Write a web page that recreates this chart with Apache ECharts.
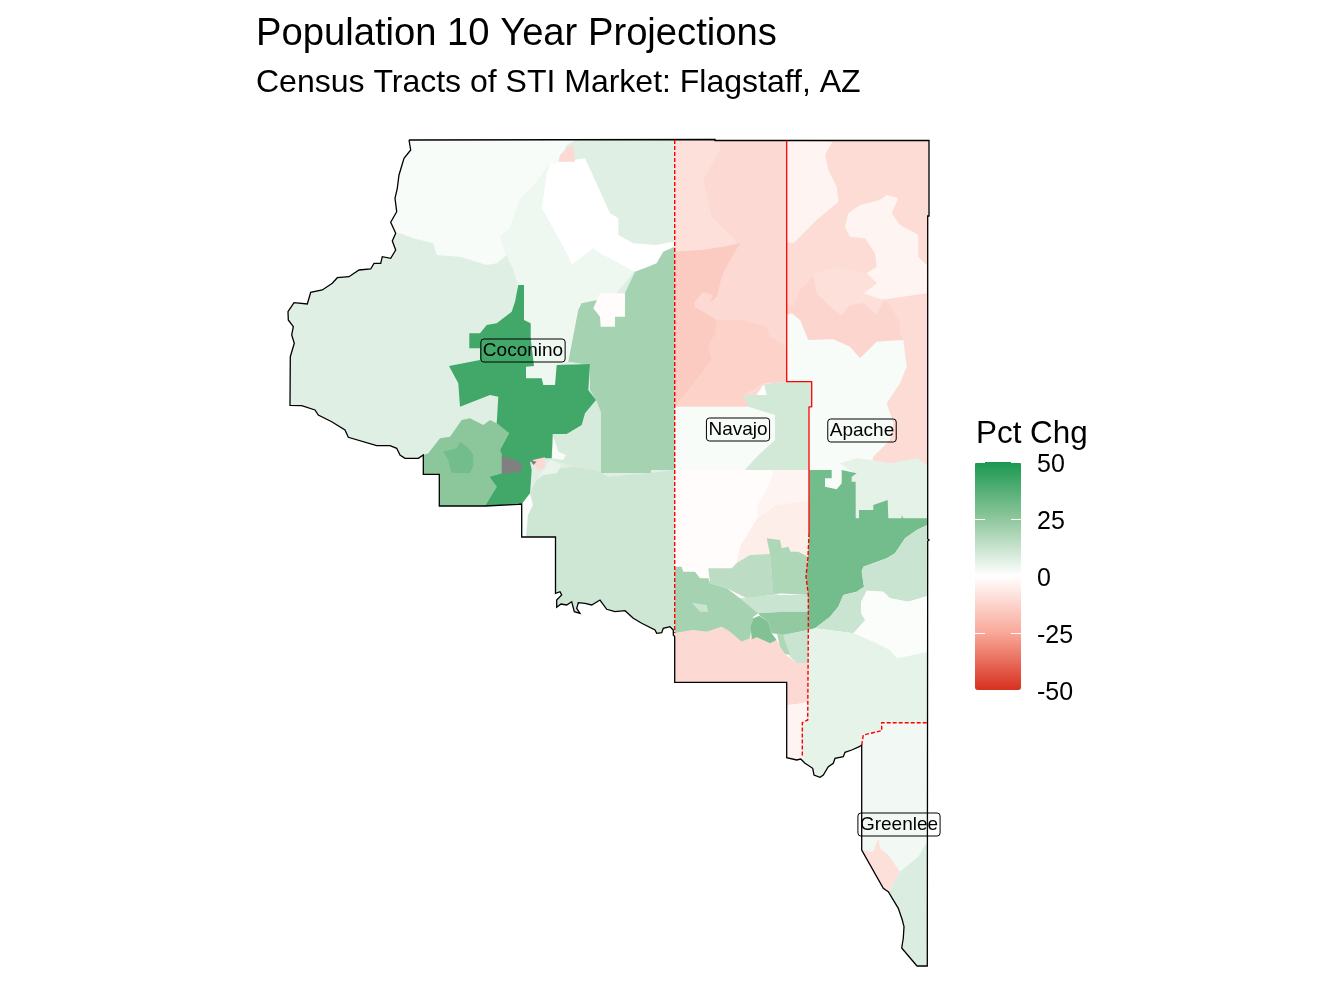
<!DOCTYPE html>
<html>
<head>
<meta charset="utf-8">
<style>html,body{margin:0;padding:0;background:#fff}#chart{width:1344px;height:1008px}</style>
<script src="https://cdn.jsdelivr.net/npm/echarts@6/dist/echarts.min.js"></script>
</head>
<body>
<div id="chart"></div>
<script>
"use strict";
/* map units, y grows downward (flipped when the geojson is built) */
var titleText = 'Population 10 Year Projections';
var subtitleText = 'Census Tracts of STI Market: Flagstaff, AZ';
var legendTitle = 'Pct Chg';
var legendTicks = [-50, -25, 0, 25, 50];
var legendColors = ['#d7301f', '#f9a898', '#ffffff', '#8fc79d', '#1a9850'];

var countyNames = ['Coconino', 'Navajo', 'Apache', 'Greenlee'];
var countyLon = [523, 738, 862, 899];
var countyLat = [350.5, 429.5, 430.5, 824.5];

/* outline pieces shared by tracts and the county line */
var edgeCocoSouth = [[521.7,504],[521.7,537],[555.5,537],[555.5,593.3],[560,591.7],[561.7,595],[556.7,600],[556.7,607.3],[561,604],[566.7,605],[571.7,601.7],[574.3,611.7],[580,613.3],[576.7,608.3],[578.3,602.7],[585,603.3],[591.7,605],[600,600],[606.7,609.3],[615,611.7],[625,610.7],[633.3,618.3],[641.7,623.3],[655,630],[656.7,633.3],[661.7,632.7],[663.3,628.3],[670,626.7],[673.3,630],[673.3,635],[674.7,636.7]];
var edgeCocoWest = [[518.3,504.3],[485,506],[439.3,506],[439.3,474.3],[423.3,474.3],[423.3,455],[418.3,458.3],[405,458.3],[400,455],[396.7,448.3],[390,445.7],[376.7,445.7],[348.3,437.3],[345,430],[331.7,421.7],[318.3,415],[315,410],[301.7,405.7],[290,405.3],[290.3,356.7],[294.3,343.3],[291.7,335],[293.3,326.7],[288.3,320],[288,311.7],[294,302.7],[307.3,304],[310.7,292.3],[322.3,290],[332.3,283.3],[337.3,277.7],[349,276.7],[359,270],[370.7,269],[374,263.3],[380.7,263.3],[382.3,256.7],[390.7,258.3],[395.7,250],[392.3,241],[395.7,233.3]];
var edgeCocoNorthWest = [[395.7,233.3],[390.7,222.3],[396.7,211.7],[395,198.3],[397.3,188.3],[399,175],[404,158.3],[410.7,150],[409,140]];
var edgeGreenlee = [[917,966],[901.7,948],[903.3,938],[904,926.7],[902.3,920],[898.3,908.3],[888.3,891.7],[883.3,888.3],[861.7,850],[861.7,745]];
var edgeApache = [[861.7,745],[859.3,746.7],[851.7,750],[845,752.3],[843.3,756.7],[835,758.3],[833.3,763.3],[828.3,766.7],[823.3,775],[820,777.3],[814,775],[812.7,768.3],[805,763.3],[800.7,759]];
var edgeNavajo = [[800.7,759],[796.7,760],[786.7,757.7]];

/* tract polygons, painted in this order */
var tractShapes = [
    // Coconino
    [[409,140],[674.7,140]].concat(edgeCocoSouth.slice().reverse(), edgeCocoWest, edgeCocoNorthWest),
    edgeCocoNorthWest.concat([[576.3,140],[566.7,145],[560,161.7],[550,163.3],[533.3,186.7],[520,200],[510,228.3],[500,236.7],[506.7,255],[496.7,263.3],[486.7,265],[460,256.7],[436.7,255],[433.3,243.3],[413.3,238.3],[400,233.3]]),
    [[550,163.3],[533.3,186.7],[520,200],[510,228.3],[500,236.7],[506.7,255],[513.3,270],[518.3,285],[524,320],[530.7,338],[526,366],[526,385],[556.7,385],[556.7,365],[568.3,361.7],[578.3,310],[581.7,303.3],[613.3,296.7],[630,276.7],[635,270],[600,253.3],[593.3,248.3],[571.7,265],[566.7,253.3],[541.7,208.3],[546.7,173.3]],
    [[560,161.7],[585,158.3],[595,180],[610,213.3],[618.3,218.3],[618.3,235],[633.3,243.3],[656.7,245],[673.3,241.7],[674.7,246.7],[663.3,251.7],[656.7,263.3],[648.3,266.7],[635,271.7],[600,253.3],[593.3,248.3],[571.7,265],[566.7,253.3],[541.7,208.3],[546.7,173.3],[550,163.3]],
    [[560,155],[566.7,148.3],[573.3,145],[575,161.7],[558.3,161.7]],
    [[674.7,246.7],[663.3,251.7],[656.7,263.3],[648.3,266.7],[635,271.7],[625,293],[613.3,296.7],[581.7,303.3],[578.3,310],[568.3,361.7],[590,365],[590,390],[596,400],[601,413],[601,473],[651,473],[651,470],[674.7,470]],
    [[593.3,308.3],[600,293.3],[625,293.3],[625,316.7],[615,316.7],[615,326.7],[600.7,326.7],[600,316.7]],
    [[596,400],[601,413],[601,473],[608,477],[553,460],[552.7,434],[566.7,434],[581.7,425],[585,413.3]],
    [[674.7,470],[651.7,472.7],[608.3,476.7],[595,470],[573.3,466.7],[546.7,470],[536.7,480],[530,493.3]].concat(edgeCocoSouth),
    [[521.7,504],[530,493],[533,505],[528,515],[526,537],[521.7,537]],
    [[553.3,436.7],[558.3,451.7],[566,455],[563,460],[552,458.3]],
    [[550,460],[561.7,465],[556.7,473.3],[543.3,475],[536.7,480]],
    [[423.3,455],[428.3,453.3],[440,438.3],[450,436.7],[461.7,420],[470,418.3],[483.3,425],[490,420],[496.7,423.3],[509,433.3],[500,450],[501.7,455],[501.7,473.3],[489.3,476.7],[496.7,486.7],[485,506],[439.3,506],[439.3,474.3],[423.3,474.3]],
    [[443.3,451.7],[456.7,448.3],[460,441.7],[468.3,448.3],[473.3,455],[473.3,465],[470,473.3],[451.7,472.7],[448.3,460]],
    [[518.3,285],[524,285],[524,320],[530.7,323.3],[530.7,338.3],[534,366],[526,366.7],[526,378.3],[541.7,378.3],[543.3,385],[555,385],[556.7,365],[590,364],[588.3,390],[596,400],[585,413.3],[581.7,425],[566.7,434],[552.7,434],[551.7,458.3],[543.3,458.3],[530,461.7],[531.7,470],[530,493.3],[521.7,504],[485,506],[496.7,486.7],[489.3,476.7],[501.7,473.3],[501.7,455],[500,450],[509,433.3],[496.7,423.3],[498.3,396.7],[490,395],[460,406.7],[458.3,383.3],[449,366],[480,360],[480,348.3],[469.3,348.3],[469.3,333.3],[480,333.3],[486.7,325],[496.7,323.3],[511.7,311.7],[515,301.7]],
    [[501.7,456],[515,460],[521.7,463.3],[521.7,471.7],[501.7,474]],
    [[532.7,460],[545,457.3],[545,468.3],[538.3,470],[533.3,465]],
    [[530,460],[536.7,461.7],[533.3,465]],
    // Navajo north
    [[674.7,140],[786.7,140],[786.7,381.7],[764,384],[748.3,406.7],[674.7,406.7]],
    [[674.7,140],[721,140],[720,150],[703.3,180],[711.7,216.7],[728.3,233.3],[738.3,243.3],[723.3,246.7],[701.7,250],[674.7,251.7]],
    [[716.7,320],[740,320],[766.7,326.7],[770,336.7],[786.7,346.7],[786.7,381.7],[763.3,383],[743.3,395],[748.3,406.7],[674.7,406.7],[700,375],[711.7,360],[708.3,346.7],[715,333.3]],
    [[674.7,251.7],[701.7,250],[723.3,246.7],[740,243.3],[728.3,263.3],[721.7,276.7],[716.7,296.7],[710,303],[695,303],[695,307],[711.7,316.7],[716.7,320],[715,333.3],[708.3,346.7],[711.7,360],[700,375],[674.7,406.7]],
    [[694,303],[703,292],[713,295],[710,303],[711,316],[695,307]],
    [[674.7,406.7],[809,406.7],[809,470],[674.7,470]],
    [[764,384],[786,381.7],[811.7,381.7],[811.7,406.7],[809,407],[809,470],[745,470],[756.7,456.7],[775,440],[775,415],[748.3,406.7],[743.3,395],[766.7,395]],
    // Navajo south
    [[674.7,470],[809,470],[809,600],[674.7,600]],
    [[773.3,470],[809,470],[809,500],[776.7,505],[766.7,510],[758.3,516.7],[756.7,506.7],[770,483]],
    [[809,500],[776.7,505],[758.3,516.7],[750,530],[740,546.7],[736.7,563],[766.7,563],[808,556.7],[809,533]],
    [[674.7,636.7],[674.7,633],[693.3,630],[706.7,631.7],[721.7,626.7],[730,631.7],[741.7,641.7],[750,638.3],[756.7,637.3],[770,643.3],[776.7,640],[785,654],[796.7,663.3],[807.7,663],[807.7,703],[787,705],[786.7,682.3],[674.7,682.3]],
    [[786.7,705],[793,705],[806.7,701.7],[807.7,720],[802.3,722.7],[802.3,757],[800.7,759],[796.7,760],[786.7,757.7]],
    [[708.3,568.3],[731.7,568.3],[736.7,563],[750,555],[770,554],[773,590],[780,594],[746.7,598.3],[726.7,588.3],[710,583.3]],
    [[766.7,538.3],[780,540],[781.7,548.3],[788.3,546.7],[790.7,551.7],[798.3,551.7],[808,556.7],[806,576.7],[808.3,595],[773,593],[770,554]],
    [[740,598.3],[773.3,595],[808.3,595],[808.3,611.7],[783.3,611.7],[758.3,613.3]],
    [[674.7,566.7],[681.7,566.7],[683.3,571.7],[695,571.7],[700,578.3],[708.3,578.3],[710,583.3],[726.7,588.3],[740,598.3],[758.3,613.3],[753.3,616.7],[750,638.3],[741.7,641.7],[730,631.7],[721.7,626.7],[706.7,631.7],[693.3,630],[674.7,633]],
    [[758.3,613.3],[783.3,611.7],[808.3,611.7],[808.3,630],[783.3,635],[771.7,633.3],[768.3,621.7],[760,615.7]],
    [[759.3,615.7],[768.3,621.7],[771.7,633.3],[776.7,640],[770,643.3],[756.7,637.3],[751.7,639.3],[750.7,626.7],[753.3,618.3]],
    [[783.3,635],[808.3,630],[807.7,663],[796.7,663.3],[790,656.7],[785,640]],
    [[776.7,633],[783.3,635],[790,655],[785,654],[780,646.7]],
    [[691.7,602.7],[706.7,605],[708.3,611.7],[700,611.7]],
    // Apache
    [[786.7,140.5],[929,140.5],[929,216],[927.7,216],[927.7,465],[809,465],[809,407],[811.7,406.7],[811.7,381.7],[786.7,381.7]],
    [[786.7,140.5],[832.3,141.7],[825,155],[828.3,170],[836.7,186.7],[838.3,201.7],[816.7,220],[806.7,230],[793.3,243.3],[786.7,241.7]],
    [[845,226.7],[848.3,213.3],[860,205],[880,200],[886.7,195],[898.3,198.3],[891.7,213.3],[900,225],[918.3,235],[918.3,256.7],[926.7,265],[926.7,293.3],[880,300],[863.3,293.3],[876.7,283.3],[866.7,273.3],[876.7,266.7],[875,253.3],[865,238.3],[850,236.7]],
    [[813.3,273.3],[836.7,266.7],[863.3,273.3],[866.7,273.3],[876.7,283.3],[863.3,293.3],[883.3,300],[876.7,315],[863.3,303.3],[850,305],[841.7,315],[833.3,310],[816.7,293.3]],
    [[786.7,303.3],[793.3,306.7],[800,290],[813.3,276.7],[816.7,293.3],[833.3,310],[841.7,315],[850,305],[863.3,303.3],[876.7,315],[883.3,300],[890,305],[900,323.3],[900,333.3],[903.3,340],[876.7,341.7],[860,358.3],[850,346.7],[833.3,339.3],[808.3,340],[800,320],[791.7,313.3],[786.7,315]],
    [[786.7,315],[791.7,313.3],[800,320],[808.3,340],[833.3,339.3],[850,346.7],[860,358.3],[876.7,341.7],[903.3,340],[906.7,366.7],[900,383.3],[886.7,403.3],[893.3,423.3],[890,440],[873.3,456.7],[870,470],[855,495],[809,495],[809,406.7],[811.7,406.7],[811.7,381.7],[786.7,381.7]],
    [[840,463.3],[856.7,458.3],[871.7,460],[890,463.3],[916.7,458.3],[927.7,465],[927.7,525],[855,525],[855.7,481.7],[851.7,481.7],[851.7,471.7]],
    [[809.3,470],[831.7,470],[831.7,478.3],[825,478.3],[825,486.7],[836.7,489.3],[841.7,483.3],[841.7,470],[856.7,473.3],[851.7,476.7],[851.7,481.7],[855.7,481.7],[855.7,518.3],[859,518.3],[859,510],[873.3,510],[873.3,505],[887.7,500],[888.3,518.3],[901.7,518.3],[901.7,515],[903.3,518.3],[927.3,518.3],[927.3,525],[916.7,530],[905,538.3],[895,553.3],[886.7,558.3],[863.3,566.7],[861.7,571.7],[864,586.7],[856.7,591.7],[843.3,595],[838.3,606.7],[830,616.7],[815,628.3],[808.3,630],[808.3,595],[806,576.7],[808,556.7],[809,533]],
    [[927.3,525],[916.7,530],[905,538.3],[895,553.3],[886.7,558.3],[863.3,566.7],[861.7,571.7],[864,586.7],[866.7,590.7],[883.3,591.7],[890,598.3],[908.3,601.7],[927.3,596]],
    [[866.7,590.7],[883.3,591.7],[890,598.3],[908.3,601.7],[927.3,596],[927.3,651.7],[913.3,655],[896.7,658.3],[890,650],[873.3,641.7],[853.3,633.3],[865,620],[861,613.3],[861,601.7]],
    [[864,586.7],[866.7,590.7],[861,601.7],[861,613.3],[865,620],[853.3,633.3],[815,628.3],[830,616.7],[838.3,606.7],[843.3,595],[856.7,591.7]],
    [[808.3,630],[815,628.3],[853.3,633.3],[873.3,641.7],[890,650],[896.7,658.3],[913.3,655],[927.3,651.7],[927.3,722.7],[881.7,722.7],[881.7,730.7],[863.3,735]].concat(edgeApache, [[802.3,757],[802.3,722.7],[807.7,720]]),
    // Greenlee
    [[881.7,722.7],[927.3,722.7],[927.3,966]].concat(edgeGreenlee, [[863.3,735],[881.7,730.7]]),
    [[925.7,844],[918.3,856.7],[900,871.7],[890,890],[888.3,891.7],[898.3,908.3],[902.3,920],[904,926.7],[903.3,938],[901.7,948],[917,966],[927.3,966],[927.3,844]],
    [[878.3,838.3],[880,848.3],[888.3,855],[900,871.7],[890,890],[883.3,888.3],[861.7,850],[873.3,851.7]]
];
/* percent change per tract, same order as tractShapes; null = no data */
var tractValues = [
    7, 1.5, 3.5, 0, -11, 20, -1, 9, 11, 1, 1.5, 5, 25.7, 31, 41.7, null, -11, null,
    -11, -9, -13, -15, -11, 1.5, 10,
    -1, -3, -5, -11, -3, 15, 18, 12, 20, 24, 28, 12, 18, 12,
    -10, -3, -3, -9, -12, 1.5, 6, 31, 12, 1, 12, 5.5,
    3, 8, -9
];
var tractNames = tractShapes.map(function (s, i) { return 'tract' + i; });

var outerLine = [[409,140],[715,139.5],[715,140.5],[929,140.5],[929,216],[927.7,216],[927.7,539],[929,540],[927.7,541],[927.3,966]]
    .concat(edgeGreenlee, edgeApache, edgeNavajo, [[786.7,682.3],[674.7,682.3]], edgeCocoSouth.slice().reverse(), edgeCocoWest, edgeCocoNorthWest);
var solidRedLine = [[786.7,140.5],[786.7,381.7],[811.7,381.7],[811.7,406.7],[809,407],[809,533]];
var dashedRedLines = [
    [[674.7,140],[674.7,633]],
    [[809,533],[808,556.7],[806,576.7],[808.3,595],[808.3,630],[807.7,720],[802.3,722.7],[802.3,757]],
    [[861.7,745],[863.3,735],[881.7,730.7],[881.7,722.7],[927.3,722.7]]
];

function flip(p) { return [p[0], -p[1]]; }

echarts.registerMap('tracts', {
    type: 'FeatureCollection',
    features: tractShapes.map(function (s, i) {
        return {
            type: 'Feature',
            properties: {name: tractNames[i]},
            geometry: {type: 'Polygon', coordinates: [s.map(flip)]}
        };
    })
});

var chart = echarts.init(document.getElementById('chart'));
var fontName = '"Liberation Sans", Arial, sans-serif';
var tickStyle = {show: true, inside: true, length: 10, lineStyle: {color: '#fff', width: 1}};
chart.setOption({
    animation: false,
    backgroundColor: '#fff',
    textStyle: {fontFamily: fontName},
    title: [{
        text: titleText,
        subtext: subtitleText,
        left: 251,
        top: 10,
        itemGap: 14,
        textStyle: {fontSize: 38.2, fontWeight: 'normal', color: '#000', fontFamily: fontName},
        subtextStyle: {fontSize: 32, color: '#000', fontFamily: fontName}
    }, {
        text: legendTitle,
        left: 971,
        top: 414,
        textStyle: {fontSize: 31.4, fontWeight: 'normal', color: '#000', fontFamily: fontName}
    }],
    geo: {
        map: 'tracts',
        roam: false,
        silent: true,
        aspectScale: 1,
        boundingCoords: [[0, 0], [1344, -1008]],
        left: 0,
        top: 0,
        width: 1344,
        height: 1008,
        label: {show: false},
        itemStyle: {areaColor: '#808080', borderWidth: 0, borderColor: 'transparent'}
    },
    visualMap: {
        type: 'continuous',
        seriesIndex: 0,
        min: -50,
        max: 50,
        calculable: false,
        hoverLink: false,
        realtime: false,
        left: 975,
        top: 462,
        padding: 0,
        itemWidth: 46,
        itemHeight: 228,
        text: null,
        inRange: {color: legendColors}
    },
    grid: {left: 975, top: 462, width: 46, height: 228},
    xAxis: {type: 'value', show: false},
    yAxis: [{
        // labels only
        type: 'value',
        position: 'right',
        min: legendTicks[0],
        max: legendTicks[legendTicks.length - 1],
        interval: 25,
        z: 10,
        silent: true,
        axisLine: {show: false},
        splitLine: {show: false},
        axisTick: {show: false},
        axisLabel: {
            show: true,
            margin: 16,
            align: 'left',
            formatter: '{a|{value}}',
            rich: {a: {color: '#000', fontSize: 25, padding: [6, 0, 0, 0], fontFamily: fontName}}
        }
    }, {
        type: 'value',
        position: 'left',
        min: legendTicks[0],
        max: legendTicks[legendTicks.length - 1],
        interval: 25,
        z: 10,
        silent: true,
        axisLine: {show: false},
        splitLine: {show: false},
        axisLabel: {show: false},
        axisTick: tickStyle
    }, {
        // sits on the right edge of the bar, ticks point back into it
        type: 'value',
        position: 'left',
        offset: -46,
        min: legendTicks[0],
        max: legendTicks[legendTicks.length - 1],
        interval: 25,
        z: 10,
        silent: true,
        axisLine: {show: false},
        splitLine: {show: false},
        axisLabel: {show: false},
        axisTick: {show: true, length: 10, lineStyle: {color: '#fff', width: 1}}
    }],
    series: [{
        type: 'map',
        geoIndex: 0,
        silent: true,
        data: tractNames.map(function (n, i) { return {name: n, value: tractValues[i]}; })
    }, {
        type: 'lines',
        coordinateSystem: 'geo',
        polyline: true,
        silent: true,
        z: 5,
        lineStyle: {color: '#000', width: 1.3, opacity: 1},
        data: [{coords: outerLine.map(flip)}]
    }, {
        type: 'lines',
        coordinateSystem: 'geo',
        polyline: true,
        silent: true,
        z: 6,
        lineStyle: {color: '#ff0000', width: 1.3, opacity: 1},
        data: [{coords: solidRedLine.map(flip)}]
    }, {
        type: 'lines',
        coordinateSystem: 'geo',
        polyline: true,
        silent: true,
        z: 6,
        lineStyle: {color: '#ff0000', width: 1.4, opacity: 1, type: [4, 2]},
        data: dashedRedLines.map(function (l) { return {coords: l.map(flip)}; })
    }, {
        type: 'scatter',
        coordinateSystem: 'geo',
        silent: true,
        symbolSize: 0,
        z: 8,
        itemStyle: {opacity: 1},
        label: {
            show: true,
            position: 'inside',
            formatter: function (p) { return p.name; },
            color: '#000',
            opacity: 1,
            fontSize: 19,
            fontFamily: fontName,
            textBorderWidth: 0,
            textBorderColor: 'transparent',
            borderColor: '#000',
            borderWidth: 1,
            borderRadius: 3,
            padding: [3, 2, 1, 2]
        },
        data: countyNames.map(function (n, i) {
            return {name: n, value: flip([countyLon[i], countyLat[i]])};
        })
    }]
});
</script>
</body>
</html>
